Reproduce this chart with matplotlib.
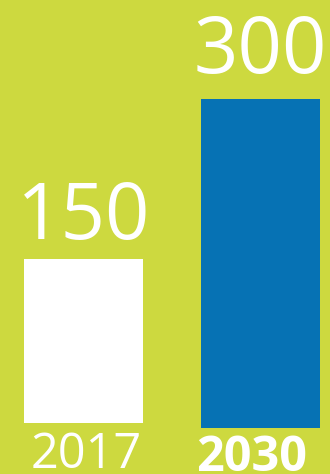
import matplotlib.pyplot as plt

# Values for the two years
years = ["2017", "2030"]
values = [150, 300]
value_labels = ["150", "300"]

bg_color = "#cdd93f"
bar_colors = ["#ffffff", "#0672b4"]
year_weights = ["normal", "bold"]

W, H, DPI = 330, 474, 100
px_per_unit = 329 / 300          # vertical scale shared by both bars
baselines_px = [51, 46]          # each bar sits on its own baseline (px from bottom)
value_gap_px = [19, 26]          # gap between bar top and value baseline
year_dx_px = [3, -9]
year_dy_px = [45, 43]

plt.rcParams['font.family'] = ['Open Sans', 'DejaVu Sans']

fig = plt.figure(figsize=(W / DPI, H / DPI), dpi=DPI)
fig.patch.set_facecolor(bg_color)

for i, (year, val) in enumerate(zip(years, values)):
    base = baselines_px[i]
    ax = fig.add_axes([0, base / H, 1, (H - base) / H])
    ax.patch.set_alpha(0)
    ax.set_xlim(-83.5 / 177, (W - 83.5) / 177)
    ax.set_ylim(0, (H - base) / px_per_unit)
    ax.bar(i, val, width=119 / 177, color=bar_colors[i])
    ax.annotate(value_labels[i], (i, val), xytext=(0, value_gap_px[i]),
                textcoords="offset pixels", ha="center", va="baseline",
                fontsize=56, color="white")
    ax.annotate(year, (i, 0), xytext=(year_dx_px[i], -year_dy_px[i]),
                textcoords="offset pixels", ha="center", va="baseline",
                fontsize=35, color="white", fontweight=year_weights[i],
                annotation_clip=False)
    ax.axis("off")

fig.savefig("out.png", dpi=DPI, facecolor=bg_color)
